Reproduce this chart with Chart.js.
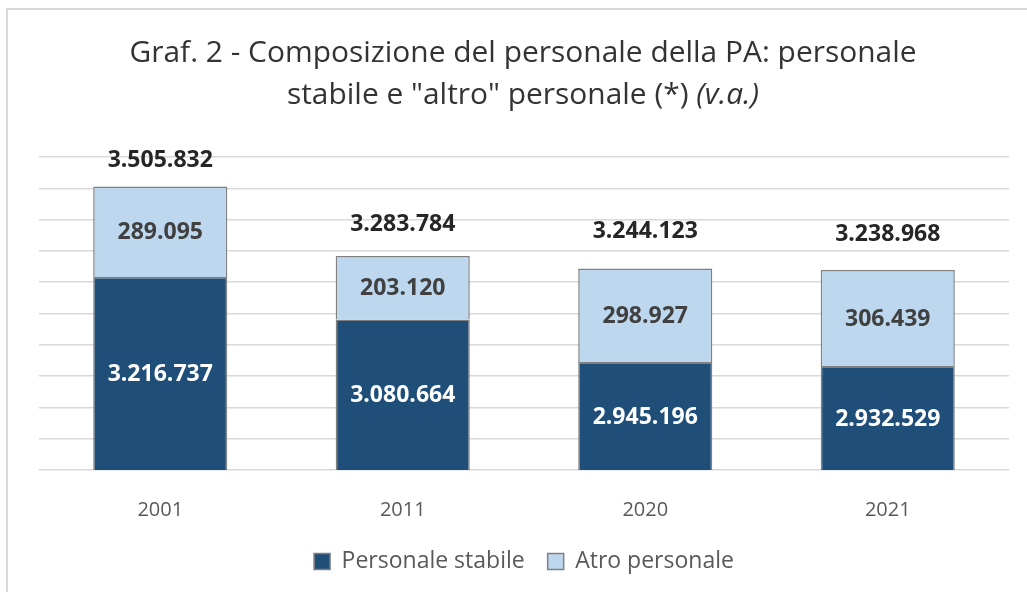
<!DOCTYPE html>
<html>
<head>
<meta charset="utf-8">
<script src="https://cdn.jsdelivr.net/npm/chart.js@4"></script>
<style>
html, body { margin: 0; padding: 0; background: #fff; overflow: hidden; }
#frame { position: absolute; left: 6px; top: 8px; width: 1100px; height: 700px;
         border-left: 2px solid #d9d9d9; border-top: 2px solid #d9d9d9; }
#wrap { position: absolute; left: 0; top: 0; width: 1027px; height: 592px; }
</style>
</head>
<body>
<div id="frame"></div>
<div id="wrap"><canvas id="myChart" width="1027" height="592"></canvas></div>
<script>
var anni = ['2001', '2011', '2020', '2021'];
var personaleStabile = [3216737, 3080664, 2945196, 2932529];
var altroPersonale = [289095, 203120, 298927, 306439];
var totale = [3505832, 3283784, 3244123, 3238968];

var titolo1 = 'Graf. 2 - Composizione del personale della PA: personale';
var titolo2 = 'stabile e "altro" personale (*) ';
var titolo2Corsivo = '(v.a.)';

// spostamento verticale delle etichette dei totali sopra le barre (px)
var scostamenti = [26, 32, 37, 36];

function fmt(n) {
    return n.toString().replace(/\B(?=(\d{3})+(?!\d))/g, '.');
}

// titolo su due righe, con la parte finale in corsivo
var titoloPlugin = {
    id: 'titolo',
    afterDraw: function (chart) {
        var ctx = chart.ctx;
        var cx = 523;
        ctx.save();
        ctx.fillStyle = '#333333';
        ctx.textBaseline = 'alphabetic';
        ctx.font = '30px "Open Sans"';
        var w1 = ctx.measureText(titolo1).width;
        var sx = Math.min(1, 787 / w1);

        ctx.save();
        ctx.translate(cx, 62);
        ctx.scale(sx, 1);
        ctx.textAlign = 'center';
        ctx.fillText(titolo1, 0, 0);
        ctx.restore();

        var wa = ctx.measureText(titolo2).width;
        ctx.font = 'italic 30px "Open Sans"';
        var wb = ctx.measureText(titolo2Corsivo).width;
        ctx.save();
        ctx.translate(cx, 104);
        ctx.scale(sx, 1);
        ctx.textAlign = 'left';
        ctx.font = '30px "Open Sans"';
        ctx.fillText(titolo2, -(wa + wb) / 2, 0);
        ctx.font = 'italic 30px "Open Sans"';
        ctx.fillText(titolo2Corsivo, -(wa + wb) / 2 + wa, 0);
        ctx.restore();
        ctx.restore();
    }
};

// valori dentro le barre e totali sopra
var etichette = {
    id: 'etichette',
    afterDatasetsDraw: function (chart) {
        var ctx = chart.ctx, area = chart.chartArea;
        ctx.save();
        ctx.textAlign = 'center';
        ctx.textBaseline = 'middle';
        ctx.font = 'bold 23px "Open Sans"';
        chart.data.datasets.forEach(function (ds, i) {
            chart.getDatasetMeta(i).data.forEach(function (bar, j) {
                var bottom = Math.min(bar.base, area.bottom);
                ctx.fillStyle = i === 0 ? '#ffffff' : '#404040';
                ctx.fillText(fmt(ds.data[j]), bar.x, (bar.y + bottom) / 2 + 1);
            });
        });
        ctx.fillStyle = '#262626';
        chart.getDatasetMeta(1).data.forEach(function (bar, j) {
            ctx.fillText(fmt(totale[j]), bar.x, bar.y - scostamenti[j]);
        });
        ctx.restore();
    }
};

var ctx = document.getElementById('myChart').getContext('2d');
var chart = new Chart(ctx, {
    type: 'bar',
    data: {
        labels: anni,
        datasets: [{
            label: 'Personale stabile',
            data: personaleStabile,
            backgroundColor: '#1f4e79',
            borderColor: '#808080',
            borderWidth: 1.5,
            categoryPercentage: 0.553,
            barPercentage: 1
        }, {
            label: 'Atro personale',
            data: altroPersonale,
            backgroundColor: '#bdd7ee',
            borderColor: '#808080',
            borderWidth: 1.5,
            categoryPercentage: 0.553,
            barPercentage: 1
        }]
    },
    options: {
        responsive: false,
        animation: false,
        layout: { padding: { left: 39, right: 18, top: 157, bottom: 9 } },
        plugins: {
            legend: {
                position: 'bottom',
                labels: {
                    boxWidth: 16,
                    boxHeight: 16,
                    padding: 23,
                    color: '#595959',
                    font: { family: '"Open Sans"', size: 23 }
                }
            },
            tooltip: { enabled: false }
        },
        scales: {
            x: {
                stacked: true,
                grid: { display: false },
                border: { display: false },
                ticks: {
                    padding: 20,
                    color: '#595959',
                    font: { family: '"Open Sans"', size: 20 }
                },
                afterFit: function (scale) { scale.height = 57; }
            },
            y: {
                stacked: true,
                min: 2600000,
                max: 3600000,
                grid: { color: '#d9d9d9', lineWidth: 1.5, drawTicks: false },
                border: { display: false },
                ticks: { display: false, stepSize: 100000 }
            }
        }
    },
    plugins: [titoloPlugin, etichette]
});
</script>
</body>
</html>
